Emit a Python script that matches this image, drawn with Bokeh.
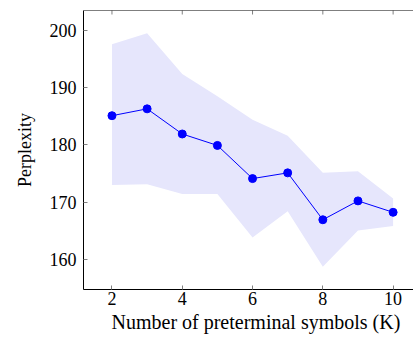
from bokeh.plotting import figure
from bokeh.models import ColumnDataSource, FixedTicker, Range1d, Span, Title
from bokeh.embed import file_html
from bokeh.resources import INLINE

K = [2, 3, 4, 5, 6, 7, 8, 9, 10]
perplexity = [185.1, 186.3, 181.9, 179.9, 174.1, 175.1, 166.9, 170.2, 168.2]
upper = [197.6, 199.5, 192.4, 188.5, 184.4, 181.6, 175.1, 175.4, 170.6]
lower = [173.0, 173.1, 171.4, 171.4, 163.8, 168.4, 158.7, 165.0, 165.8]
x_ticks = [2, 4, 6, 8, 10]
y_ticks = [160, 170, 180, 190, 200]
Y_MIN, Y_MAX = 154.7, 203.5
x_label = "Number of preterminal symbols (K)"
y_label = "Perplexity"

src = ColumnDataSource(dict(k=K, p=perplexity, hi=upper, lo=lower))

FONT = "Liberation Serif"
p = figure(width=413, height=340, output_backend="svg", toolbar_location=None,
           x_range=Range1d(1.19, 10.58), y_range=Range1d(Y_MIN, Y_MAX),
           min_border_left=83, min_border_right=0, min_border_top=10, min_border_bottom=51)
p.outline_line_color = None
p.grid.visible = False
p.background_fill_color = "white"

p.varea(x="k", y1="lo", y2="hi", source=src, fill_color="#e6e6fc", fill_alpha=1.0)
p.line(x="k", y="p", source=src, line_color="#0000ff", line_width=1)
p.scatter(x="k", y="p", source=src, size=8, fill_color="#0000ff", line_color="#0000ff")

# top frame line with inward ticks
p.add_layout(Span(location=Y_MAX, dimension="width", line_color="black", line_width=1))
top_src = ColumnDataSource(dict(x=x_ticks, y=[Y_MAX] * len(x_ticks)))
p.scatter(x="x", y="y", source=top_src, marker="dash", angle=1.5708, size=8,
          line_color="#808080", line_width=1)

xa = p.xaxis[0]
ya = p.yaxis[0]
for ax in (xa, ya):
    ax.axis_line_color = "black"
    ax.axis_line_width = 1
    ax.major_tick_in = 4
    ax.major_tick_out = 0
    ax.major_tick_line_color = "#808080"
    ax.minor_tick_line_color = None
    ax.major_label_text_font = FONT
    ax.major_label_text_font_size = "18px"
    ax.major_label_text_color = "black"
    ax.axis_label_text_font = FONT
    ax.axis_label_text_font_size = "18px"
    ax.axis_label_text_font_style = "normal"
    ax.axis_label_text_color = "black"

xa.ticker = FixedTicker(ticks=x_ticks)
ya.ticker = FixedTicker(ticks=y_ticks)
xa.major_label_standoff = 2
ya.axis_label = y_label
ya.major_label_standoff = 7
ya.axis_label_standoff = 12

# x-axis title as a below-title so it can be nudged right like the reference
p.add_layout(Title(text=x_label, align="left", offset=28, text_font=FONT,
                   text_font_size="20px", text_font_style="normal",
                   text_color="black", standoff=2), "below")

open("out.html", "w").write(file_html(p, INLINE))
